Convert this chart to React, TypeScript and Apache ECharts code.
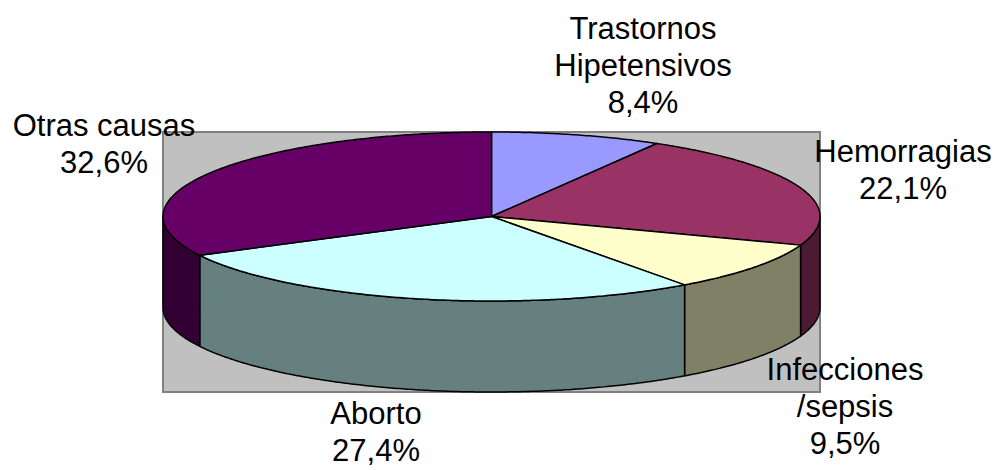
import React, { useEffect, useRef } from "react";
import * as echarts from "echarts";

const categories = [
  "Trastornos\nHipetensivos",
  "Hemorragias",
  "Infecciones\n/sepsis",
  "Aborto",
  "Otras causas",
];
const values = [8.4, 22.1, 9.5, 27.4, 32.6];
const topColors = ["#9999FF", "#993366", "#FFFFCC", "#CCFFFF", "#660066"];
const sideColors = ["#4D4D80", "#4D1A33", "#808066", "#668080", "#330033"];

// layout
const PIE = { cx: 491.5, cy: 216.5, rx: 328.5, ry: 84.5, depth: 91 };
const PLOT = { x: 163, y: 132, w: 657, h: 260 };
const LABEL_POS = [
  [643, 65],
  [903, 170],
  [845, 406],
  [376, 432],
  [104, 144],
];

function pt(tDeg: number, dy = 0): number[] {
  const t = (tDeg * Math.PI) / 180;
  return [PIE.cx + PIE.rx * Math.sin(t), PIE.cy - PIE.ry * Math.cos(t) + dy];
}

function arcPts(a0: number, a1: number, dy = 0): number[][] {
  const out: number[][] = [];
  const n = Math.max(2, Math.ceil((a1 - a0) / 0.5));
  for (let i = 0; i <= n; i++) out.push(pt(a0 + ((a1 - a0) * i) / n, dy));
  return out;
}

export default function App() {
  const ref = useRef<HTMLDivElement>(null);
  useEffect(() => {
    if (!ref.current) return;
    const chart = echarts.init(ref.current, undefined, { renderer: "svg" });
    const total = values.reduce((a, b) => a + b, 0);
    const starts: number[] = [];
    let acc = 0;
    values.forEach((v) => {
      starts.push((acc / total) * 360);
      acc += v;
    });

    chart.setOption({
      animation: false,
      backgroundColor: "#ffffff",
      graphic: [
        {
          type: "rect",
          z: 0,
          shape: { x: PLOT.x, y: PLOT.y, width: PLOT.w, height: PLOT.h },
          style: { fill: "#C0C0C0", stroke: "#808080", lineWidth: 2 },
        },
      ],
      series: [
        {
          type: "custom",
          coordinateSystem: "none",
          z: 2,
          data: values.map((v, i) => ({ value: v, name: categories[i] })),
          renderItem: (params: any, api: any) => {
            const i = params.dataIndex;
            const v = api.value(0);
            const a0 = starts[i];
            const a1 = a0 + (v / total) * 360;
            const children: any[] = [];
            const s0 = Math.max(a0, 90);
            const s1 = Math.min(a1, 270);
            if (s1 > s0) {
              const upper = arcPts(s0, s1, 0);
              const lower = arcPts(s0, s1, PIE.depth).reverse();
              children.push({
                type: "polygon",
                shape: { points: upper.concat(lower) },
                style: {
                  fill: sideColors[i],
                  stroke: "#000",
                  lineWidth: 1.5,
                  lineJoin: "round",
                },
              });
            }
            const top = [[PIE.cx, PIE.cy]].concat(arcPts(a0, a1, 0));
            children.push({
              type: "polygon",
              shape: { points: top },
              style: {
                fill: topColors[i],
                stroke: "#000",
                lineWidth: 1.5,
                lineJoin: "round",
              },
            });
            children.push({
              type: "text",
              x: LABEL_POS[i][0],
              y: LABEL_POS[i][1],
              z2: 10,
              style: {
                text: `${categories[i]}\n${v.toFixed(1).replace(".", ",")}%`,
                fill: "#000",
                fontSize: 31,
                fontFamily: '"Liberation Sans", Arial, sans-serif',
                align: "center",
                verticalAlign: "middle",
                lineHeight: 37,
              },
            });
            return { type: "group", children };
          },
        },
      ],
    });
    return () => chart.dispose();
  }, []);
  return (
    <div
      ref={ref}
      style={{ position: "fixed", left: 0, top: 0, width: 997, height: 470 }}
    />
  );
}
